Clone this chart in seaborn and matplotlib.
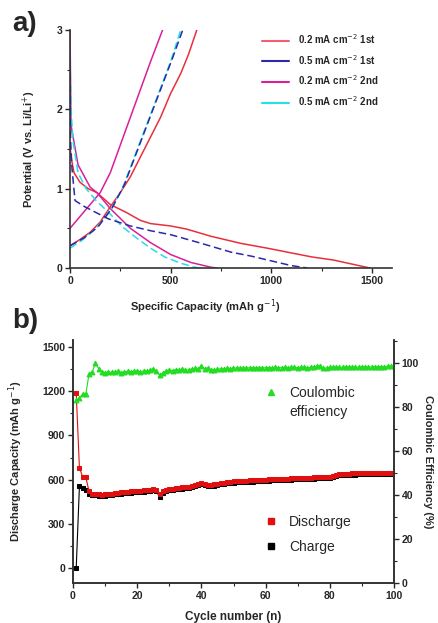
import matplotlib
matplotlib.use("Agg")
import matplotlib.pyplot as plt
import seaborn as sns
from matplotlib.lines import Line2D
from matplotlib.ticker import MultipleLocator

# ---------------- Panel a data (capacity mAh/g, potential V) ----------------
red_dis_cap = [0, 5, 20, 50, 90, 134, 200, 280, 350, 400, 500, 580, 700, 850, 980, 1100, 1200, 1310, 1400, 1490]
red_dis_v = [1.55, 1.4, 1.2, 1.08, 1.0, 0.95, 0.8, 0.7, 0.6, 0.56, 0.53, 0.49, 0.4, 0.31, 0.25, 0.19, 0.14, 0.1, 0.05, 0.0]
red_ch_cap = [0, 50, 100, 150, 200, 250, 300, 350, 400, 450, 500, 550, 590, 630]
red_ch_v = [0.28, 0.36, 0.45, 0.58, 0.77, 0.95, 1.15, 1.4, 1.65, 1.9, 2.2, 2.45, 2.7, 3.0]

blue_dis_cap = [0, 3, 10, 25, 75, 190, 300, 400, 500, 640, 800, 900, 1000, 1100, 1180]
blue_dis_v = [2.6, 1.6, 1.25, 0.85, 0.77, 0.62, 0.53, 0.47, 0.42, 0.32, 0.2, 0.15, 0.09, 0.03, 0.0]
blue_ch_cap = [0, 70, 140, 210, 270, 330, 390, 450, 510, 560]
blue_ch_v = [0.28, 0.38, 0.52, 0.76, 1.05, 1.45, 1.85, 2.25, 2.65, 3.0]

mag_dis_cap = [0, 5, 40, 100, 134, 200, 300, 400, 500, 600, 700, 730]
mag_dis_v = [3.0, 1.8, 1.3, 1.02, 0.95, 0.75, 0.5, 0.32, 0.17, 0.07, 0.01, 0.0]
mag_ch_cap = [0, 50, 100, 150, 200, 250, 300, 350, 400, 460]
mag_ch_v = [0.5, 0.65, 0.8, 0.95, 1.2, 1.55, 1.9, 2.25, 2.6, 3.0]

cyan_dis_cap = [0, 5, 15, 40, 80, 130, 200, 260, 330, 400, 470, 550, 620, 650]
cyan_dis_v = [2.6, 2.0, 1.6, 1.2, 1.0, 0.85, 0.68, 0.52, 0.38, 0.25, 0.14, 0.06, 0.01, 0.0]
cyan_ch_cap = [0, 60, 130, 200, 260, 320, 380, 440, 500, 550]
cyan_ch_v = [0.25, 0.35, 0.5, 0.72, 1.0, 1.4, 1.8, 2.2, 2.6, 3.0]

legend_a_labels = [r"0.2 mA cm$^{-2}$ 1st", r"0.5 mA cm$^{-2}$ 1st",
                   r"0.2 mA cm$^{-2}$ 2nd", r"0.5 mA cm$^{-2}$ 2nd"]

# ---------------- Panel b data ----------------
cycles = list(range(1, 101))
discharge = [
    1190, 680, 620, 615, 520, 505, 503, 500, 498, 500,
    503, 505, 508, 510, 513, 516, 518, 520, 522, 524,
    525, 527, 530, 532, 535, 530, 500, 522, 530, 535,
    538, 541, 544, 547, 550, 552, 556, 562, 570, 578,
    572, 566, 565, 568, 572, 576, 579, 582, 585, 588,
    590, 591, 592, 593, 594, 595, 596, 597, 598, 600,
    601, 602, 603, 604, 605, 606, 607, 608, 609, 610,
    611, 612, 613, 614, 615, 616, 618, 620, 619, 621,
    624, 630, 638, 640, 641, 641, 642, 642, 643, 643,
    644, 644, 645, 645, 646, 646, 647, 647, 648, 648]
charge = [
    0, 555, 540, 530, 500, 495, 493, 491, 490, 492,
    495, 497, 500, 502, 505, 508, 510, 512, 514, 516,
    517, 519, 522, 524, 527, 522, 480, 512, 521, 527,
    530, 533, 536, 539, 542, 544, 548, 554, 562, 570,
    564, 558, 557, 560, 564, 568, 571, 574, 577, 580,
    582, 583, 584, 585, 586, 587, 588, 589, 590, 592,
    593, 594, 595, 596, 597, 598, 599, 600, 601, 602,
    603, 604, 605, 606, 607, 608, 610, 612, 611, 613,
    616, 622, 630, 632, 633, 633, 634, 634, 635, 635,
    636, 636, 637, 637, 638, 638, 639, 639, 640, 640]
ce = [
    83, 84, 86, 86, 95, 96, 100, 97.5, 96, 95.5,
    96, 95.8, 96, 96.2, 95.7, 96, 96.3, 96, 96.2, 96.4,
    96, 96.5, 96.3, 96.8, 97.5, 96.2, 94.5, 95.5, 96.5, 96.8,
    96.6, 97, 96.8, 97.2, 97, 96.8, 97.3, 97.6, 97.2, 98.8,
    97.5, 97.8, 97, 96.8, 97.2, 97.4, 97.3, 97.6, 97.5, 97.7,
    97.8, 97.6, 97.8, 97.7, 97.9, 97.8, 97.8, 97.9, 97.8, 97.9,
    97.9, 97.8, 98, 97.9, 97.9, 98, 97.9, 98, 98, 97.9,
    98, 98, 97.9, 98, 98.1, 98.5, 98.8, 97.6, 97.8, 98,
    98, 98.1, 98, 98.1, 98.2, 98.1, 98.2, 98.2, 98.1, 98.2,
    98.3, 98.2, 98.3, 98.3, 98.4, 98.3, 98.4, 98.5, 98.5, 98.6]

# ---------------- styling ----------------
sns.set_style("ticks")
plt.rcParams["font.family"] = ["Liberation Sans", "DejaVu Sans"]
plt.rcParams["mathtext.fontset"] = "dejavusans"

RED = "#e8303c"
BLUE = "#2a2aa8"
MAG = "#d8209a"
CYAN = "#20e0e8"
GREEN = "#22dd22"

fig = plt.figure(figsize=(4.38, 6.23), dpi=100)
axa = fig.add_axes([70 / 438, (623 - 268) / 623, 322 / 438, 238 / 623])
axb = fig.add_axes([73 / 438, (623 - 583) / 623, 321 / 438, 243 / 623])

dash = (0, (5, 2.5))
for cap, v, col, ls in [
    (red_dis_cap, red_dis_v, RED, "-"), (red_ch_cap, red_ch_v, RED, "-"),
    (mag_dis_cap, mag_dis_v, MAG, "-"), (mag_ch_cap, mag_ch_v, MAG, "-"),
    (cyan_dis_cap, cyan_dis_v, CYAN, dash), (cyan_ch_cap, cyan_ch_v, CYAN, dash),
    (blue_dis_cap, blue_dis_v, BLUE, dash), (blue_ch_cap, blue_ch_v, BLUE, dash),
]:
    sns.lineplot(x=cap, y=v, sort=False, estimator=None, color=col,
                 linewidth=1.1, linestyle=ls, ax=axa)

axa.set_xlim(0, 1600)
axa.set_ylim(0, 3)
axa.xaxis.set_major_locator(MultipleLocator(500))
axa.xaxis.set_minor_locator(MultipleLocator(250))
axa.yaxis.set_major_locator(MultipleLocator(1))
axa.yaxis.set_minor_locator(MultipleLocator(0.5))
for s in ["top", "right"]:
    axa.spines[s].set_visible(False)
for s in ["left", "bottom"]:
    axa.spines[s].set_linewidth(1.2)
    axa.spines[s].set_color("#333333")
axa.tick_params(which="major", length=3.5, width=1, labelsize=7.5, pad=2)
axa.tick_params(which="minor", length=2, width=0.8)
for lab in axa.get_xticklabels() + axa.get_yticklabels():
    lab.set_fontweight("bold")
axa.set_xlabel(r"Specific Capacity (mAh g$^{-1}$)", fontsize=8, fontweight="bold")
axa.set_ylabel(r"Potential (V vs. Li/Li$^{+}$)", fontsize=8, fontweight="bold")
axa.xaxis.set_label_coords(0.42, -0.125)
axa.yaxis.set_label_coords(-0.1, 0.5)

handles_a = [Line2D([], [], color=c, lw=1.5) for c in ["#f06070", BLUE, MAG, CYAN]]
axa.legend(handles_a, legend_a_labels, loc="upper left", bbox_to_anchor=(0.596, 0.99),
           frameon=False, handlelength=2.8, handletextpad=0.9,
           labelspacing=0.7, borderpad=0, borderaxespad=0,
           prop={"weight": "bold", "size": 7})

# ---------------- panel b ----------------
sns.lineplot(x=cycles, y=charge, color="black", marker="s", markersize=3.5,
             markeredgecolor="black", linewidth=0.8, ax=axb)
sns.lineplot(x=cycles, y=discharge, color="#e01010", marker="s", markersize=3.5,
             markeredgecolor="#e01010", linewidth=0.8, ax=axb)
axb.set_xlim(0, 100)
axb.set_ylim(-102, 1548)
axb.xaxis.set_major_locator(MultipleLocator(20))
axb.xaxis.set_minor_locator(MultipleLocator(10))
axb.yaxis.set_major_locator(MultipleLocator(300))
axb.yaxis.set_minor_locator(MultipleLocator(150))

ax2 = axb.twinx()
sns.lineplot(x=cycles, y=ce, color=GREEN, marker="^", markersize=3.5,
             markeredgecolor=GREEN, linewidth=0.8, ax=ax2)
ax2.set_ylim(0, 110.5)
ax2.yaxis.set_major_locator(MultipleLocator(20))
ax2.yaxis.set_minor_locator(MultipleLocator(10))

for ax in (axb, ax2):
    ax.spines["top"].set_visible(False)
    for s in ["left", "right", "bottom"]:
        ax.spines[s].set_linewidth(1.2)
        ax.spines[s].set_color("#333333")
    ax.tick_params(which="major", length=3.5, width=1, labelsize=7.5, pad=2)
    ax.tick_params(which="minor", length=2, width=0.8)
for lab in axb.get_xticklabels() + axb.get_yticklabels() + ax2.get_yticklabels():
    lab.set_fontweight("bold")

axb.set_xlabel("Cycle number (n)", fontsize=8.5, fontweight="bold")
axb.set_ylabel(r"Discharge Capacity (mAh g$^{-1}$)", fontsize=8, fontweight="bold")
ax2.set_ylabel("Coulombic Efficiency (%)", fontsize=8, fontweight="bold", rotation=270)
axb.xaxis.set_label_coords(0.5, -0.115)
axb.yaxis.set_label_coords(-0.15, 0.5)
ax2.yaxis.set_label_coords(1.12, 0.5)

hb = [Line2D([], [], color="#e01010", marker="s", ls="none", markersize=4.5),
      Line2D([], [], color="black", marker="s", ls="none", markersize=4.5)]
axb.legend(hb, ["Discharge", "Charge"], loc="upper left", bbox_to_anchor=(0.595, 0.279),
           frameon=False, fontsize=10, handlelength=1, handletextpad=0.8,
           labelspacing=0.75, borderpad=0, borderaxespad=0)
hc = [Line2D([], [], color=GREEN, marker="^", ls="none", markersize=4.5),
      Line2D([], [], color="none", ls="none")]
ax2.legend(hc, ["Coulombic", "efficiency"], loc="upper left", bbox_to_anchor=(0.595, 0.81),
           frameon=False, fontsize=10, handlelength=1, handletextpad=0.8,
           labelspacing=0.35, borderpad=0, borderaxespad=0)

fig.text(0.028, 0.962, "a)", fontsize=20, fontweight="bold", va="center")
fig.text(0.028, 0.485, "b)", fontsize=20, fontweight="bold", va="center")

fig.savefig("out.png", dpi=100)
